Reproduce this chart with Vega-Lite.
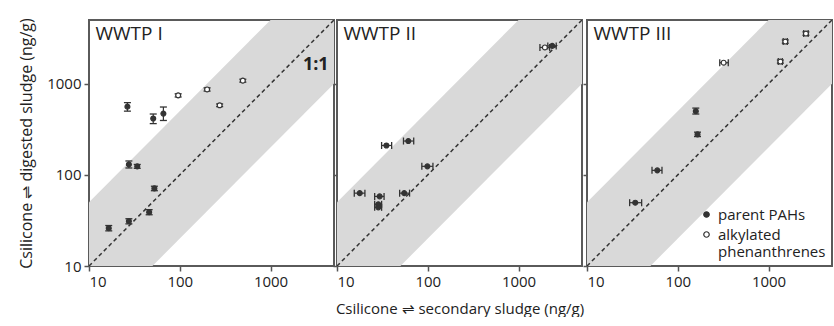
{
  "$schema": "https://vega.github.io/schema/vega-lite/v6.json",
  "padding": {"left": 17, "top": 16, "right": 0, "bottom": 0},
  "datasets": {
    "band": [{"x": 10, "lo": 2, "hi": 50}, {"x": 5000, "lo": 1000, "hi": 25000}],
    "diag": [{"x": 10, "y": 10}, {"x": 5000, "y": 5000}],
    "pts": [
      {"p": "I", "type": "parent PAHs", "x": 26.5, "y": 560, "ylo": 500, "yhi": 620},
      {"p": "I", "type": "parent PAHs", "x": 51, "y": 415, "ylo": 365, "yhi": 465},
      {"p": "I", "type": "parent PAHs", "x": 66, "y": 470, "ylo": 395, "yhi": 555},
      {"p": "I", "type": "parent PAHs", "x": 27.5, "y": 130, "ylo": 119, "yhi": 142},
      {"p": "I", "type": "parent PAHs", "x": 34, "y": 124, "ylo": 118, "yhi": 130},
      {"p": "I", "type": "parent PAHs", "x": 52.5, "y": 71, "ylo": 67, "yhi": 75},
      {"p": "I", "type": "parent PAHs", "x": 46, "y": 39, "ylo": 36.5, "yhi": 41.5},
      {"p": "I", "type": "parent PAHs", "x": 27.5, "y": 31, "ylo": 29, "yhi": 33},
      {"p": "I", "type": "parent PAHs", "x": 16.5, "y": 26, "ylo": 24.3, "yhi": 27.8},
      {"p": "I", "type": "alkylated phenanthrenes", "x": 96, "y": 745, "ylo": 715, "yhi": 775},
      {"p": "I", "type": "alkylated phenanthrenes", "x": 200, "y": 865, "ylo": 830, "yhi": 900},
      {"p": "I", "type": "alkylated phenanthrenes", "x": 275, "y": 580, "ylo": 560, "yhi": 600},
      {"p": "I", "type": "alkylated phenanthrenes", "x": 495, "y": 1080, "ylo": 1040, "yhi": 1120},
      {"p": "II", "type": "parent PAHs", "x": 35, "y": 210, "xlo": 31, "xhi": 40},
      {"p": "II", "type": "parent PAHs", "x": 61, "y": 235, "xlo": 54, "xhi": 70},
      {"p": "II", "type": "parent PAHs", "x": 99, "y": 124, "xlo": 86, "xhi": 114},
      {"p": "II", "type": "parent PAHs", "x": 17.8, "y": 63, "xlo": 15.5, "xhi": 20.3},
      {"p": "II", "type": "parent PAHs", "x": 29.5, "y": 58, "xlo": 26, "xhi": 33},
      {"p": "II", "type": "parent PAHs", "x": 28.5, "y": 47.5, "xlo": 26, "xhi": 31},
      {"p": "II", "type": "parent PAHs", "x": 28.5, "y": 44, "xlo": 26, "xhi": 31},
      {"p": "II", "type": "parent PAHs", "x": 55, "y": 63, "xlo": 49, "xhi": 63},
      {"p": "II", "type": "alkylated phenanthrenes", "x": 1950, "y": 2500, "xlo": 1720, "xhi": 2200},
      {"p": "II", "type": "parent PAHs", "x": 2350, "y": 2600, "xlo": 2100, "xhi": 2600},
      {"p": "III", "type": "alkylated phenanthrenes", "x": 320, "y": 1700, "xlo": 290, "xhi": 360},
      {"p": "III", "type": "alkylated phenanthrenes", "x": 1350, "y": 1750, "xlo": 1280, "xhi": 1420, "ylo": 1680, "yhi": 1820},
      {"p": "III", "type": "alkylated phenanthrenes", "x": 1530, "y": 2900, "xlo": 1450, "xhi": 1610, "ylo": 2780, "yhi": 3020},
      {"p": "III", "type": "alkylated phenanthrenes", "x": 2580, "y": 3550, "xlo": 2440, "xhi": 2730, "ylo": 3400, "yhi": 3700},
      {"p": "III", "type": "parent PAHs", "x": 158, "y": 500, "ylo": 465, "yhi": 540},
      {"p": "III", "type": "parent PAHs", "x": 165, "y": 278, "ylo": 263, "yhi": 294},
      {"p": "III", "type": "parent PAHs", "x": 59.5, "y": 112, "xlo": 52, "xhi": 67},
      {"p": "III", "type": "parent PAHs", "x": 34, "y": 49.5, "xlo": 29.5, "xhi": 40}
    ]
  },
  "spacing": -4,
  "resolve": {"scale": {"fill": "independent"}, "legend": {"fill": "independent"}},
  "hconcat": [
    {
      "width": 245, "height": 246,
      "layer": [
        {"data": {"name": "band"}, "mark": {"type": "area", "color": "#d9d9d9", "clip": true},
         "encoding": {
           "x": {"field": "x", "type": "quantitative", "scale": {"type": "log", "domain": [10, 5000], "nice": false}, "axis": {"values": [10, 100, 1000], "format": "d", "title": null}},
           "y": {"field": "lo", "type": "quantitative", "scale": {"type": "log", "domain": [10, 5000], "nice": false}, "axis": {"values": [10, 100, 1000], "format": "d", "title": "Csilicone ⇌ digested sludge (ng/g)"}},
           "y2": {"field": "hi"}}},
        {"data": {"name": "diag"}, "mark": {"type": "line", "color": "#333", "strokeDash": [4, 3], "strokeWidth": 1.5, "clip": true},
         "encoding": {"x": {"field": "x", "type": "quantitative"}, "y": {"field": "y", "type": "quantitative"}}},
        {"data": {"name": "pts"}, "transform": [{"filter": "datum.p == 'I' && datum.ylo != null"}],
         "layer": [
           {"mark": {"type": "rule", "color": "#333", "strokeWidth": 1.2}, "encoding": {"x": {"field": "x", "type": "quantitative"}, "y": {"field": "ylo", "type": "quantitative"}, "y2": {"field": "yhi"}}},
           {"mark": {"type": "tick", "orient": "horizontal", "size": 7, "thickness": 1.3, "color": "#333", "opacity": 1}, "encoding": {"x": {"field": "x", "type": "quantitative"}, "y": {"field": "ylo", "type": "quantitative"}}},
           {"mark": {"type": "tick", "orient": "horizontal", "size": 7, "thickness": 1.3, "color": "#333", "opacity": 1}, "encoding": {"x": {"field": "x", "type": "quantitative"}, "y": {"field": "yhi", "type": "quantitative"}}}
         ]},
        {"data": {"name": "pts"}, "transform": [{"filter": "datum.p == 'I'"}],
         "mark": {"type": "point", "shape": "circle", "filled": true, "stroke": "#333", "strokeWidth": 1.2, "size": 24, "opacity": 1},
         "encoding": {"x": {"field": "x", "type": "quantitative"}, "y": {"field": "y", "type": "quantitative"},
           "fill": {"field": "type", "type": "nominal", "scale": {"domain": ["parent PAHs", "alkylated phenanthrenes"], "range": ["#333333", "#ffffff"]}, "legend": null}}},
        {"data": {"values": [{}]}, "mark": {"type": "text", "align": "left", "baseline": "top", "fontSize": 19, "color": "#222"},
         "encoding": {"x": {"datum": 11.8, "type": "quantitative"}, "y": {"datum": 4400, "type": "quantitative"}, "text": {"value": "WWTP I"}}},
        {"data": {"values": [{}]}, "mark": {"type": "text", "align": "center", "baseline": "middle", "fontSize": 18, "fontWeight": "bold", "color": "#222"},
         "encoding": {"x": {"datum": 3150, "type": "quantitative"}, "y": {"datum": 1600, "type": "quantitative"}, "text": {"value": "1:1"}}}
      ]
    },
    {
      "width": 245, "height": 246,
      "layer": [
        {"data": {"name": "band"}, "mark": {"type": "area", "color": "#d9d9d9", "clip": true},
         "encoding": {
           "x": {"field": "x", "type": "quantitative", "scale": {"type": "log", "domain": [10, 5000], "nice": false}, "axis": {"values": [10, 100, 1000], "format": "d", "title": "Csilicone ⇌ secondary sludge (ng/g)", "titleFontSize": 15}},
           "y": {"field": "lo", "type": "quantitative", "scale": {"type": "log", "domain": [10, 5000], "nice": false}, "axis": {"values": [10, 100, 1000], "labels": false, "title": null, "tickSize": 4, "labelPadding": 0}},
           "y2": {"field": "hi"}}},
        {"data": {"name": "diag"}, "mark": {"type": "line", "color": "#333", "strokeDash": [4, 3], "strokeWidth": 1.5, "clip": true},
         "encoding": {"x": {"field": "x", "type": "quantitative"}, "y": {"field": "y", "type": "quantitative"}}},
        {"data": {"name": "pts"}, "transform": [{"filter": "datum.p == 'II' && datum.xlo != null"}],
         "layer": [
           {"mark": {"type": "rule", "color": "#333", "strokeWidth": 1.2}, "encoding": {"x": {"field": "xlo", "type": "quantitative"}, "x2": {"field": "xhi"}, "y": {"field": "y", "type": "quantitative"}}},
           {"mark": {"type": "tick", "orient": "vertical", "size": 7, "thickness": 1.3, "color": "#333", "opacity": 1}, "encoding": {"x": {"field": "xlo", "type": "quantitative"}, "y": {"field": "y", "type": "quantitative"}}},
           {"mark": {"type": "tick", "orient": "vertical", "size": 7, "thickness": 1.3, "color": "#333", "opacity": 1}, "encoding": {"x": {"field": "xhi", "type": "quantitative"}, "y": {"field": "y", "type": "quantitative"}}}
         ]},
        {"data": {"name": "pts"}, "transform": [{"filter": "datum.p == 'II'"}],
         "mark": {"type": "point", "shape": "circle", "filled": true, "stroke": "#333", "strokeWidth": 1.2, "size": 24, "opacity": 1},
         "encoding": {"x": {"field": "x", "type": "quantitative"}, "y": {"field": "y", "type": "quantitative"},
           "fill": {"field": "type", "type": "nominal", "scale": {"domain": ["parent PAHs", "alkylated phenanthrenes"], "range": ["#333333", "#ffffff"]}, "legend": null}}},
        {"data": {"values": [{}]}, "mark": {"type": "text", "align": "left", "baseline": "top", "fontSize": 19, "color": "#222"},
         "encoding": {"x": {"datum": 11.8, "type": "quantitative"}, "y": {"datum": 4400, "type": "quantitative"}, "text": {"value": "WWTP II"}}}
      ]
    },
    {
      "width": 245, "height": 246,
      "layer": [
        {"data": {"name": "band"}, "mark": {"type": "area", "color": "#d9d9d9", "clip": true},
         "encoding": {
           "x": {"field": "x", "type": "quantitative", "scale": {"type": "log", "domain": [10, 5000], "nice": false}, "axis": {"values": [10, 100, 1000], "format": "d", "title": null}},
           "y": {"field": "lo", "type": "quantitative", "scale": {"type": "log", "domain": [10, 5000], "nice": false}, "axis": {"values": [10, 100, 1000], "labels": false, "title": null, "tickSize": 4, "labelPadding": 0}},
           "y2": {"field": "hi"}}},
        {"data": {"name": "diag"}, "mark": {"type": "line", "color": "#333", "strokeDash": [4, 3], "strokeWidth": 1.5, "clip": true},
         "encoding": {"x": {"field": "x", "type": "quantitative"}, "y": {"field": "y", "type": "quantitative"}}},
        {"data": {"name": "pts"}, "transform": [{"filter": "datum.p == 'III' && datum.xlo != null"}],
         "layer": [
           {"mark": {"type": "rule", "color": "#333", "strokeWidth": 1.2}, "encoding": {"x": {"field": "xlo", "type": "quantitative"}, "x2": {"field": "xhi"}, "y": {"field": "y", "type": "quantitative"}}},
           {"mark": {"type": "tick", "orient": "vertical", "size": 7, "thickness": 1.3, "color": "#333", "opacity": 1}, "encoding": {"x": {"field": "xlo", "type": "quantitative"}, "y": {"field": "y", "type": "quantitative"}}},
           {"mark": {"type": "tick", "orient": "vertical", "size": 7, "thickness": 1.3, "color": "#333", "opacity": 1}, "encoding": {"x": {"field": "xhi", "type": "quantitative"}, "y": {"field": "y", "type": "quantitative"}}}
         ]},
        {"data": {"name": "pts"}, "transform": [{"filter": "datum.p == 'III' && datum.ylo != null"}],
         "layer": [
           {"mark": {"type": "rule", "color": "#333", "strokeWidth": 1.2}, "encoding": {"x": {"field": "x", "type": "quantitative"}, "y": {"field": "ylo", "type": "quantitative"}, "y2": {"field": "yhi"}}},
           {"mark": {"type": "tick", "orient": "horizontal", "size": 7, "thickness": 1.3, "color": "#333", "opacity": 1}, "encoding": {"x": {"field": "x", "type": "quantitative"}, "y": {"field": "ylo", "type": "quantitative"}}},
           {"mark": {"type": "tick", "orient": "horizontal", "size": 7, "thickness": 1.3, "color": "#333", "opacity": 1}, "encoding": {"x": {"field": "x", "type": "quantitative"}, "y": {"field": "yhi", "type": "quantitative"}}}
         ]},
        {"data": {"name": "pts"}, "transform": [{"filter": "datum.p == 'III'"}],
         "mark": {"type": "point", "shape": "circle", "filled": true, "stroke": "#333", "strokeWidth": 1.2, "size": 24, "opacity": 1},
         "encoding": {"x": {"field": "x", "type": "quantitative"}, "y": {"field": "y", "type": "quantitative"},
           "fill": {"field": "type", "type": "nominal", "scale": {"domain": ["parent PAHs", "alkylated phenanthrenes"], "range": ["#333333", "#ffffff"]},
             "legend": {"title": null, "orient": "bottom-right", "offset": 6, "padding": 0, "labelFontSize": 15, "labelColor": "#222", "symbolType": "circle", "symbolSize": 30, "symbolStrokeColor": "#333", "symbolStrokeWidth": 1.2, "rowPadding": 4, "labelLimit": 200,
               "labelExpr": "datum.label == 'alkylated phenanthrenes' ? ['alkylated', 'phenanthrenes'] : datum.label"}}}},
        {"data": {"values": [{}]}, "mark": {"type": "text", "align": "left", "baseline": "top", "fontSize": 19, "color": "#222"},
         "encoding": {"x": {"datum": 11.8, "type": "quantitative"}, "y": {"datum": 4400, "type": "quantitative"}, "text": {"value": "WWTP III"}}}
      ]
    }
  ],
  "config": {
    "font": "Open Sans",
    "view": {"stroke": "#5a5a5a", "strokeWidth": 2},
    "axis": {"grid": false, "domain": false, "tickColor": "#555", "tickSize": 5, "tickWidth": 1.5, "labelFontSize": 15, "labelColor": "#222", "labelFont": "Open Sans", "labelPadding": 3, "titleFont": "Open Sans", "titleFontSize": 16, "titleFontWeight": "normal", "titleColor": "#222", "titlePadding": 12}
  }
}
